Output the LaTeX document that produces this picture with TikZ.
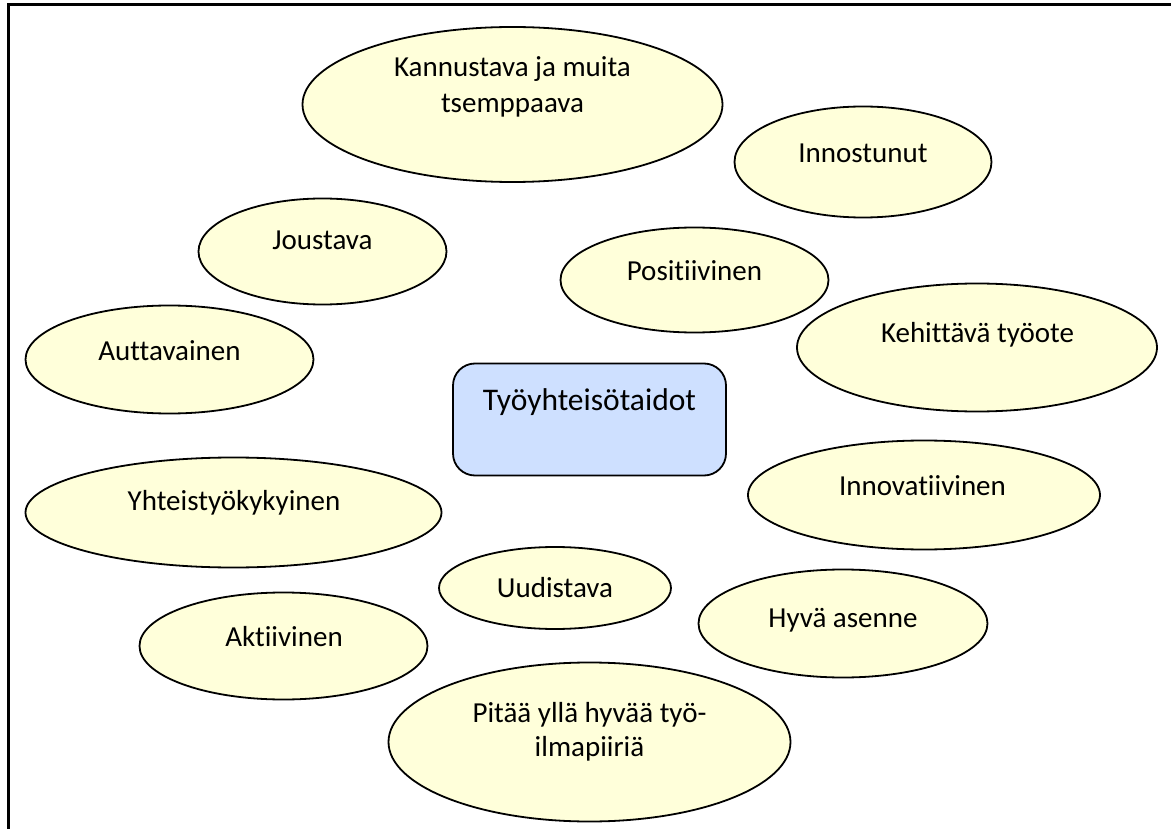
\documentclass[tikz,border=0pt]{standalone}
\usepackage{fontspec}
\setmainfont{Carlito}[RawFeature={-liga;-dlig}]
\usetikzlibrary{shapes.geometric}
\definecolor{bubfill}{RGB}{255,255,218}
\definecolor{hubfill}{RGB}{206,224,255}
\tikzset{
  bub/.style={ellipse, draw=black, line width=1.8pt, fill=bubfill, inner sep=0pt},
  hub/.style={rectangle, rounded corners=22pt, draw=black, line width=1.8pt, fill=hubfill, inner sep=0pt},
  lbl/.style={anchor=base, inner sep=0pt, font=\fontsize{29}{35}\selectfont},
  hublbl/.style={lbl, font=\fontsize{31.5}{38}\selectfont},
  frame/.style={line width=3pt, line join=miter}
}
\begin{document}
\begin{tikzpicture}[x=1pt,y=-1pt]
\useasboundingbox (0,0) rectangle (1171,829);

% open frame: top and left edges only
\coordinate (fr-tr) at (1171,4.5);
\coordinate (fr-tl) at (8.5,4.5);
\coordinate (fr-bl) at (8.5,829);
\draw[frame] (fr-tr) -- (fr-tl) -- (fr-bl);

% central topic
\node[hub, minimum width=273pt, minimum height=112pt] (hub) at (589.5,419.5) {};
\node[hublbl] (hub-t) at (589.5,410) {Työyhteisötaidot};

% surrounding qualities
\node[bub, minimum width=420pt, minimum height=155pt] (kan) at (512.5,104.5) {};
\node[lbl] (kan-t1) at (512.5,76.7) {Kannustava ja muita};
\node[lbl] (kan-t2) at (512.5,112.3) {tsemppaava};

\node[bub, minimum width=257pt, minimum height=111pt] (ins) at (863,162) {};
\node[lbl] (ins-t) at (863,163) {Innostunut};

\node[bub, minimum width=248pt, minimum height=106pt] (jou) at (322.5,251.5) {};
\node[lbl] (jou-t) at (322.5,250) {Joustava};

\node[bub, minimum width=268pt, minimum height=105pt] (pos) at (694.5,280) {};
\node[lbl] (pos-t) at (694.5,281) {Positiivinen};

\node[bub, minimum width=360pt, minimum height=128pt] (keh) at (977,347.5) {};
\node[lbl] (keh-t) at (977.5,342) {Kehittävä työote};

\node[bub, minimum width=288pt, minimum height=108pt] (aut) at (169.5,359.5) {};
\node[lbl] (aut-t) at (169.5,360) {Auttavainen};

\node[bub, minimum width=352pt, minimum height=109pt] (inv) at (924,495) {};
\node[lbl] (inv-t) at (922.5,495) {Innovatiivinen};

\node[bub, minimum width=416pt, minimum height=110pt] (yht) at (233.5,512.5) {};
\node[lbl] (yht-t) at (234,510) {Yhteistyökykyinen};

\node[bub, minimum width=232pt, minimum height=82pt] (uud) at (555,588) {};
\node[lbl] (uud-t) at (555,597) {Uudistava};

\node[bub, minimum width=289pt, minimum height=108pt] (hyv) at (843,623.5) {};
\node[lbl] (hyv-t) at (843,627) {Hyvä asenne};

\node[bub, minimum width=288pt, minimum height=107pt] (akt) at (283.5,646) {};
\node[lbl] (akt-t) at (284,646) {Aktiivinen};

\node[bub, minimum width=402pt, minimum height=159pt] (pit) at (589.5,742) {};
\node[lbl] (pit-t1) at (589.5,722) {Pitää yllä hyvää työ-};
\node[lbl] (pit-t2) at (589.5,756.5) {ilmapiiriä};
\end{tikzpicture}
\end{document}
